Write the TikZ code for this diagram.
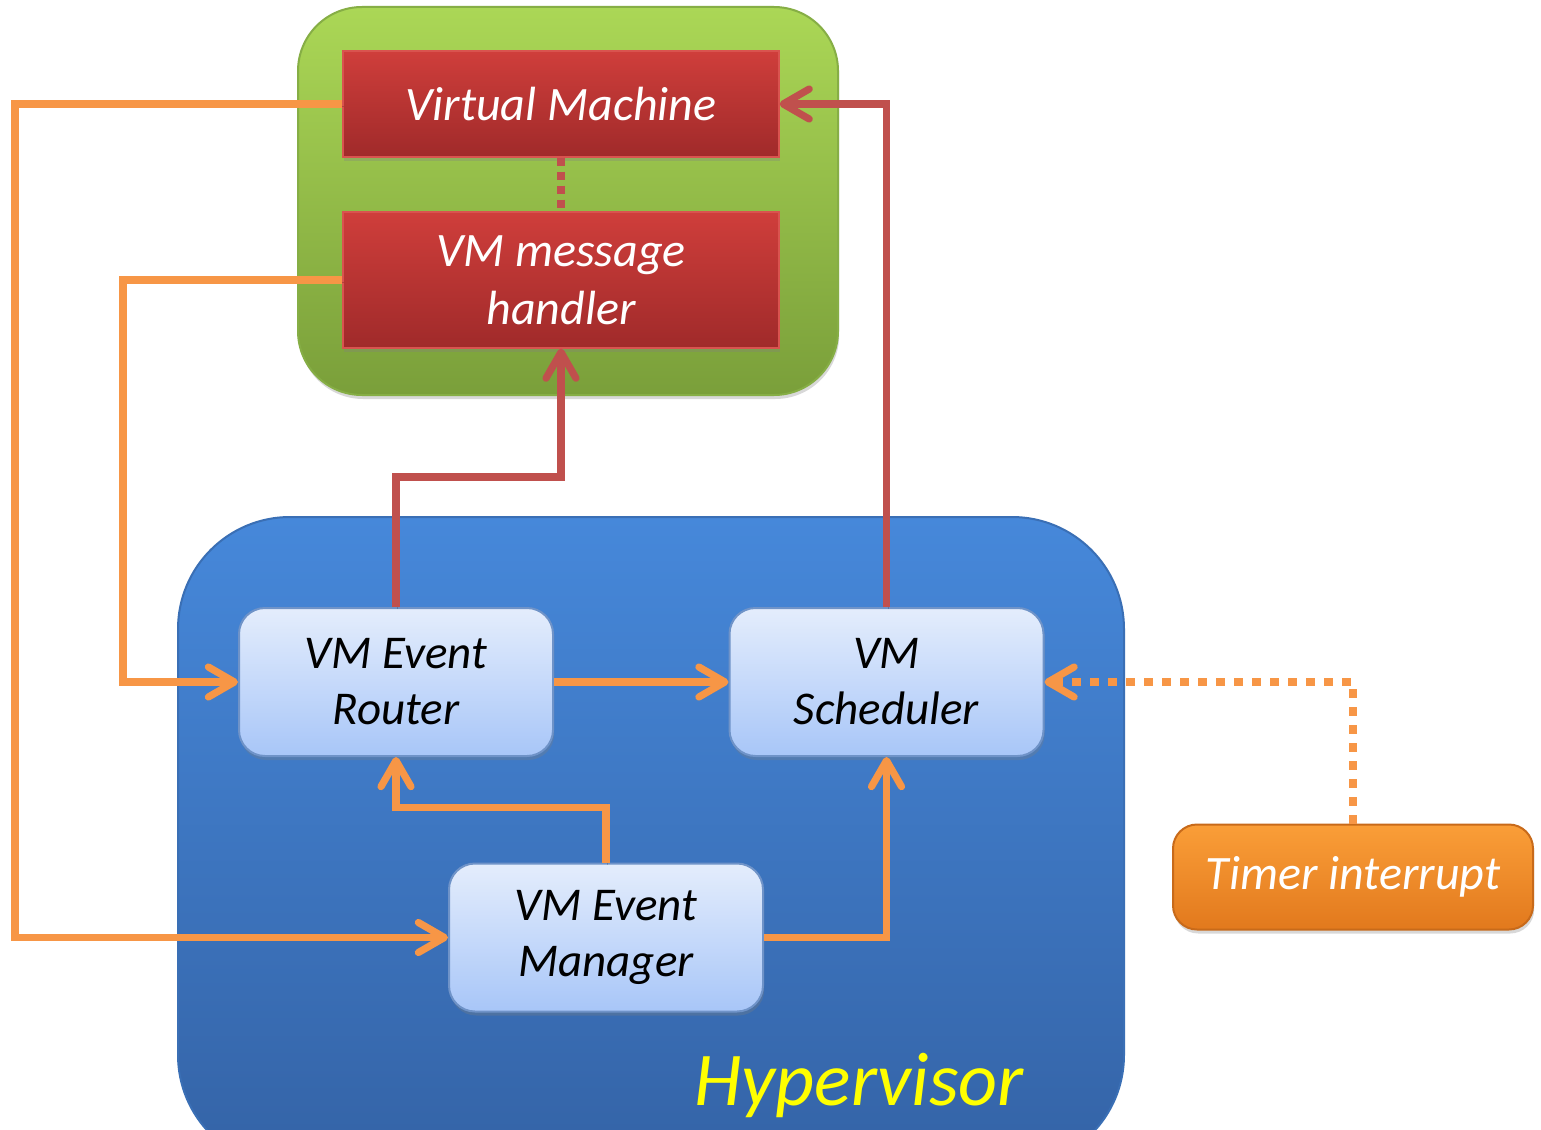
\documentclass[tikz,border=0pt]{standalone}
\usepackage{fontspec}
\setmainfont{Carlito}
\usetikzlibrary{arrows.meta,shadows}

\definecolor{orangeline}{HTML}{F79646}
\definecolor{redline}{HTML}{C0504D}
\definecolor{greentop}{HTML}{ABD756}
\definecolor{greenbot}{HTML}{7A9F3A}
\definecolor{greenrim}{HTML}{86AE45}
\definecolor{redtop}{HTML}{CF3E3B}
\definecolor{redbot}{HTML}{A02A2A}
\definecolor{redrim}{HTML}{D9534F}
\definecolor{bluetop}{HTML}{4688DA}
\definecolor{bluebot}{HTML}{3463A6}
\definecolor{bluerim}{HTML}{3A6FB5}
\definecolor{paletop}{HTML}{E4EDFC}
\definecolor{palebot}{HTML}{A8C6F8}
\definecolor{palerim}{HTML}{6F93C8}
\definecolor{ambertop}{HTML}{FA9E38}
\definecolor{amberbot}{HTML}{E2791D}
\definecolor{amberrim}{HTML}{C86A1A}
\definecolor{hvyellow}{HTML}{FFFF00}

\tikzset{
  barbtip/.tip={Straight Barb[length=13pt,width=15pt,line width=3.6pt,round]},
  softshadow/.style={drop shadow={shadow xshift=0.6pt,shadow yshift=-2pt,opacity=0.3}},
  lineshadow/.style={preaction={draw=black,draw opacity=0.18,
    transform canvas={xshift=0.8pt,yshift=-1.2pt}}},
  vmbox/.style={draw=redrim,line width=0.6pt,top color=redtop,bottom color=redbot,
    minimum width=218pt,text=white,align=center,softshadow,
    font=\itshape\fontsize{24pt}{29pt}\selectfont},
  hvbox/.style={draw=palerim,line width=1pt,rounded corners=13pt,top color=paletop,
    bottom color=palebot,minimum width=157pt,minimum height=74pt,align=center,
    softshadow,font=\itshape\fontsize{23.5pt}{28pt}\selectfont},
  oarrow/.style={draw=orangeline,line width=3.6pt,lineshadow,-barbtip},
  rarrow/.style={draw=redline,line width=3.6pt,lineshadow,-barbtip},
  odotted/.style={draw=orangeline,line width=3.8pt,dash pattern=on 4.5pt off 4.5pt,
    -barbtip},
  rdotted/.style={draw=redline,line width=3.6pt,dash pattern=on 4pt off 3pt},
}

\begin{document}
\begin{tikzpicture}[x=0.5pt,y=-0.5pt]
  \clip (0,0) rectangle (1541,1129);
  \fill[white] (0,0) rectangle (1541,1129);

  % containers
  \node (guest) [draw=greenrim,line width=1pt,rounded corners=32pt,
    top color=greentop,bottom color=greenbot,minimum width=270pt,
    minimum height=194pt,softshadow] at (568,201) {};
  \node (hyp) [draw=bluerim,line width=1pt,rounded corners=56pt,
    top color=bluetop,bottom color=bluebot,minimum width=473pt,
    minimum height=325pt] at (651,842) {};
  \node (hvlabel) [anchor=base,text=hvyellow,
    font=\itshape\fontsize{38pt}{42pt}\selectfont] at (859,1105) {Hypervisor};

  % guest side
  \node (vm) [vmbox,minimum height=53pt] at (561,104) {Virtual Machine};
  \node (mh) [vmbox,minimum height=68pt] at (561,280) {VM message\\handler};

  % hypervisor components
  \node (router) [hvbox] at (396,682) {VM Event\\Router};
  \node (sched) [hvbox] at (886.5,682) {VM\\Scheduler};
  \node (mgr) [hvbox] at (606,937.5) {VM Event\\Manager};

  % interrupt source
  \node (timer) [draw=amberrim,line width=1pt,rounded corners=12pt,
    top color=ambertop,bottom color=amberbot,minimum width=180pt,
    minimum height=52.5pt,text=white,softshadow,
    font=\itshape\fontsize{24pt}{29pt}\selectfont] at (1353,877) {Timer interrupt};

  % routing columns on the left
  \coordinate (outer) at (15,0);
  \coordinate (inner) at (123,0);

  % connectors
  \draw[rdotted] (vm.south) -- (mh.north);
  \draw[oarrow] (vm.west) -- (vm.west -| outer) |- (mgr.west);
  \draw[oarrow] (mh.west) -- (mh.west -| inner) |- (router.west);
  \draw[oarrow] (router.east) -- (sched.west);
  \draw[oarrow] (mgr.north) -- ++(0,-55) -| (router.south);
  \draw[oarrow] (mgr.east) -| (sched.south);
  \draw[odotted] (timer.north) |- (sched.east);
  \draw[rarrow] (router.north) -- ++(0,-130) -| (mh.south);
  \draw[rarrow] (sched.north) |- (vm.east);
\end{tikzpicture}
\end{document}
